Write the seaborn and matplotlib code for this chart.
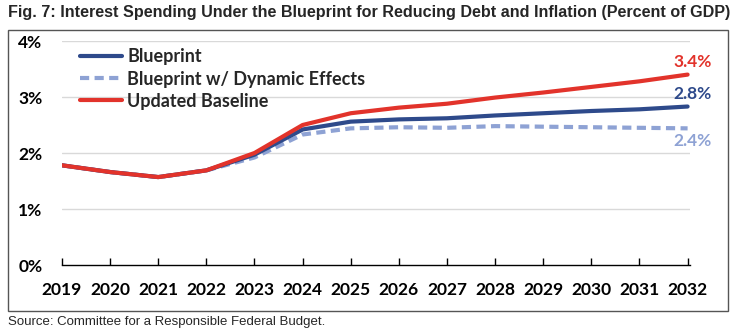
import matplotlib
matplotlib.use("Agg")
import matplotlib.pyplot as plt
import seaborn as sns
import pandas as pd
from matplotlib.patches import Rectangle
from matplotlib.lines import Line2D

years = list(range(2019, 2033))
blueprint = [1.78, 1.66, 1.57, 1.69, 1.97, 2.42, 2.56, 2.60, 2.62, 2.67, 2.71, 2.75, 2.78, 2.83]
dynamic = [1.78, 1.66, 1.57, 1.69, 1.92, 2.33, 2.44, 2.46, 2.45, 2.48, 2.47, 2.46, 2.45, 2.44]
baseline = [1.78, 1.66, 1.57, 1.69, 2.00, 2.50, 2.71, 2.81, 2.88, 2.99, 3.08, 3.18, 3.28, 3.40]
series_names = ["Blueprint", "Blueprint w/ Dynamic Effects", "Updated Baseline"]
end_labels = ["2.8%", "2.4%", "3.4%"]
yticks = [0, 1, 2, 3, 4]
ytick_labels = ["0%", "1%", "2%", "3%", "4%"]

colors = {"Blueprint": "#2E4A8B", "Blueprint w/ Dynamic Effects": "#8EA2D4", "Updated Baseline": "#E2332B"}

sns.set_theme(style="white")
plt.rcParams['font.family'] = ['Lato', 'DejaVu Sans']

df = pd.DataFrame({"year": years * 3,
                   "value": blueprint + dynamic + baseline,
                   "series": [series_names[0]] * 14 + [series_names[1]] * 14 + [series_names[2]] * 14})

fig = plt.figure(figsize=(7.38, 3.36), dpi=100)
ax = fig.add_axes([62 / 738, 1 - 265 / 336, 628 / 738, 224 / 336])

for ytk in yticks[1:]:
    ax.axhline(ytk, color="#D9D9D9", lw=1, zorder=0)

dash = (0, (2.2, 1.3))
sns.lineplot(data=df[df.series == series_names[1]], x="year", y="value", color=colors[series_names[1]],
             lw=3, ax=ax, linestyle=dash, zorder=2)
sns.lineplot(data=df[df.series == series_names[0]], x="year", y="value", color=colors[series_names[0]],
             lw=3, ax=ax, zorder=3)
sns.lineplot(data=df[df.series == series_names[2]], x="year", y="value", color=colors[series_names[2]],
             lw=3, ax=ax, zorder=4)

ax.set_xlim(2019, 2032.05)
ax.set_ylim(0, 4)
ax.set_xticks(years)
ax.set_xticklabels([str(y) for y in years], fontsize=12.5, fontweight="bold", color="black")
ax.set_yticks(yticks)
ax.set_yticklabels(ytick_labels, fontsize=12.5, fontweight="bold", color="black")
ax.set_xlabel("")
ax.set_ylabel("")
for s in ["top", "right", "left"]:
    ax.spines[s].set_visible(False)
ax.spines["bottom"].set_color("black")
ax.spines["bottom"].set_linewidth(1)
ax.tick_params(axis="x", direction="in", length=5, width=1, color="black", pad=12, bottom=True)
ax.tick_params(axis="y", length=0, pad=14)

handles = [Line2D([0], [0], color=colors[series_names[0]], lw=3),
           Line2D([0], [0], color=colors[series_names[1]], lw=3, linestyle=dash),
           Line2D([0], [0], color=colors[series_names[2]], lw=3)]
leg = ax.legend(handles, series_names, loc="upper left", bbox_to_anchor=(0.012, 1.015), frameon=False,
                prop={"size": 13, "weight": "bold"}, handlelength=2.3, handletextpad=0.3,
                labelspacing=0.28, borderaxespad=0.2)

ax.text(2032.5, 3.4 + 0.22, end_labels[2], color=colors[series_names[2]], fontsize=12.5,
        fontweight="bold", ha="right", va="center")
ax.text(2032.5, 2.83 + 0.22, end_labels[0], color=colors[series_names[0]], fontsize=12.5,
        fontweight="bold", ha="right", va="center")
ax.text(2032.5, 2.44 - 0.22, end_labels[1], color=colors[series_names[1]], fontsize=12.5,
        fontweight="bold", ha="right", va="center")

fig.patches.append(Rectangle((8 / 738, 1 - 311 / 336), 720 / 738, 281 / 336, transform=fig.transFigure,
                             fill=False, edgecolor="#555555", lw=1))

fig.text(8 / 738, 1 - 12 / 336, "Fig. 7: Interest Spending Under the Blueprint for Reducing Debt and Inflation (Percent of GDP)",
         fontsize=11.6, fontweight="bold", ha="left", va="center",
         family=["Liberation Sans Narrow", "Liberation Sans", "DejaVu Sans"])
fig.text(8 / 738, 1 - 322 / 336, "Source: Committee for a Responsible Federal Budget.",
         fontsize=9.5, ha="left", va="center", family=["Liberation Sans", "DejaVu Sans"])

fig.savefig("out.png", dpi=100)
